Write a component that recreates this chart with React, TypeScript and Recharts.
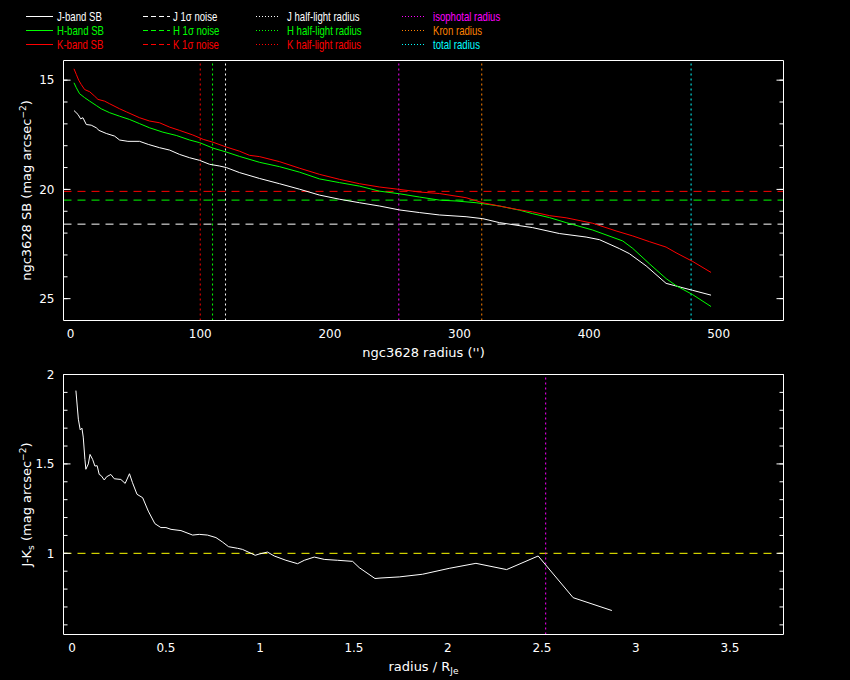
import React from "react";
import { LineChart, Line, XAxis, YAxis, ReferenceLine } from "recharts";

const FONT = "'DejaVu Sans', sans-serif";
const LEGEND_FONT = "'Liberation Sans', sans-serif";
const WHITE = "#ffffff";

// surface brightness profiles (radius in arcsec, mag arcsec^-2)
const jRadius = [2.6, 5.7, 7.7, 9.5, 12.1, 15.9, 19.8, 21.9, 27.5, 33.9, 37.8, 44.2, 53.2, 59.9, 68.6, 76.4, 84.1, 91.8, 99.5, 107.2, 114.9, 120.1, 130.3, 145.8, 161.2, 176.6, 192, 207.5, 222.9, 238.3, 253.7, 269.2, 284.6, 305.1, 318, 330.8, 356.5, 377.1, 397.7, 408, 423.4, 431.1, 444, 459.4, 467, 480, 494.1];
const jSB = [16.39, 16.57, 16.77, 16.72, 17.03, 17.06, 17.18, 17.3, 17.44, 17.56, 17.74, 17.8, 17.8, 17.94, 18.09, 18.2, 18.4, 18.55, 18.67, 18.85, 18.93, 19.0, 19.23, 19.5, 19.74, 19.99, 20.26, 20.45, 20.61, 20.76, 20.94, 21.06, 21.17, 21.25, 21.34, 21.52, 21.75, 22.02, 22.18, 22.3, 22.71, 22.94, 23.5, 24.3, 24.42, 24.62, 24.84];

const hRadius = [2.6, 4.4, 6.9, 10.8, 14.7, 19.8, 23.6, 30.1, 37.8, 45.5, 53.2, 60.9, 71.2, 81.5, 91.8, 99.5, 109.8, 120.1, 130.3, 145.8, 161.2, 176.6, 192, 207.5, 222.9, 238.3, 253.7, 269.2, 284.6, 297.4, 312.9, 330.8, 346.3, 356.5, 369.4, 382.3, 402.8, 426, 433.7, 446.5, 459.4, 467, 480, 494.1];
const hSB = [15.12, 15.35, 15.62, 15.8, 15.96, 16.16, 16.31, 16.49, 16.65, 16.8, 16.99, 17.18, 17.38, 17.53, 17.74, 17.86, 18.11, 18.29, 18.49, 18.76, 18.96, 19.21, 19.52, 19.69, 19.85, 20.08, 20.2, 20.35, 20.49, 20.53, 20.61, 20.76, 20.95, 21.11, 21.29, 21.52, 21.86, 22.36, 22.7, 23.4, 24.08, 24.4, 24.82, 25.36];

const kRadius = [2.6, 4.4, 6.2, 8.2, 10.8, 14.7, 18.5, 21.1, 26.2, 30.1, 37.8, 43, 53.2, 60.9, 68.6, 76.4, 84.1, 94.3, 102.3, 109.8, 120.1, 130.3, 138, 145.8, 161.2, 176.6, 192, 207.5, 222.9, 238.3, 253.7, 269.2, 284.6, 305.1, 318, 330.8, 343.7, 356.5, 369.4, 382.3, 402.8, 420.8, 433.7, 446.5, 459.4, 467.1, 480, 494.1];
const kSB = [14.48, 14.74, 15.0, 15.2, 15.43, 15.53, 15.73, 15.88, 15.96, 16.08, 16.31, 16.45, 16.72, 16.87, 16.95, 17.15, 17.3, 17.51, 17.71, 17.84, 18.06, 18.25, 18.44, 18.5, 18.73, 19.03, 19.31, 19.54, 19.74, 19.89, 20.0, 20.12, 20.19, 20.38, 20.61, 20.76, 20.91, 21.03, 21.2, 21.3, 21.55, 21.9, 22.13, 22.39, 22.64, 22.9, 23.3, 23.8];

// J-Ks colour profile (radius / R_Je)
const colourRadius = [0.021, 0.034, 0.044, 0.053, 0.06, 0.069, 0.074, 0.087, 0.096, 0.11, 0.122, 0.134, 0.145, 0.155, 0.172, 0.184, 0.207, 0.225, 0.26, 0.283, 0.306, 0.322, 0.346, 0.376, 0.406, 0.441, 0.473, 0.5, 0.527, 0.58, 0.642, 0.677, 0.721, 0.766, 0.801, 0.833, 0.881, 0.907, 0.975, 0.996, 1.04, 1.076, 1.138, 1.2, 1.236, 1.289, 1.342, 1.413, 1.493, 1.528, 1.612, 1.644, 1.741, 1.865, 2.007, 2.149, 2.312, 2.48, 2.666, 2.872];
const colourJK = [1.91, 1.75, 1.69, 1.7, 1.65, 1.525, 1.47, 1.5, 1.553, 1.525, 1.488, 1.49, 1.441, 1.435, 1.41, 1.428, 1.441, 1.417, 1.413, 1.391, 1.445, 1.395, 1.33, 1.311, 1.236, 1.166, 1.144, 1.144, 1.134, 1.127, 1.102, 1.106, 1.102, 1.088, 1.063, 1.037, 1.028, 1.022, 0.989, 0.996, 1.007, 0.985, 0.961, 0.942, 0.961, 0.979, 0.966, 0.961, 0.955, 0.92, 0.859, 0.862, 0.868, 0.883, 0.916, 0.944, 0.909, 0.985, 0.752, 0.68];

const bandNames = ["J", "H", "K"];
const bandColors = ["#ffffff", "#00ff00", "#ff0000"];
const noiseSB = [21.59, 20.49, 20.09];
const halfLightRadius = [119.5, 109.5, 100.0];
const apertureNames = ["isophotal radius", "Kron radius", "total radius"];
const apertureColors = ["#ff00ff", "#ff8000", "#00ffff"];
const apertureRadius = [253.2, 317.2, 478.7];
const colourMarkerRadius = 2.52;
const colourReference = 1;

const sbXDomain = [-5.5, 550];
const sbYDomain = [14.1, 26];
const sbMajorX = [0, 100, 200, 300, 400, 500];
const sbMinorX = [0, 20, 40, 60, 80, 100, 120, 140, 160, 180, 200, 220, 240, 260, 280, 300, 320, 340, 360, 380, 400, 420, 440, 460, 480, 500, 520, 540];
const sbMajorY = [15, 20, 25];
const sbMinorY = [15, 16, 17, 18, 19, 20, 21, 22, 23, 24, 25];

const jkXDomain = [-0.045, 3.785];
const jkYDomain = [0.546, 2.0];
const jkMajorX = [0, 0.5, 1, 1.5, 2, 2.5, 3, 3.5];
const jkMinorX = [0, 0.1, 0.2, 0.3, 0.4, 0.5, 0.6, 0.7, 0.8, 0.9, 1, 1.1, 1.2, 1.3, 1.4, 1.5, 1.6, 1.7, 1.8, 1.9, 2, 2.1, 2.2, 2.3, 2.4, 2.5, 2.6, 2.7, 2.8, 2.9, 3, 3.1, 3.2, 3.3, 3.4, 3.5, 3.6, 3.7];
const jkMajorY = [1, 1.5, 2];
const jkMinorY = [0.6, 0.7, 0.8, 0.9, 1, 1.1, 1.2, 1.3, 1.4, 1.5, 1.6, 1.7, 1.8, 1.9, 2];

const toRows = (xs: number[], ys: number[]) => xs.map((r, i) => ({ r, v: ys[i] }));
const sbData = [toRows(jRadius, jSB), toRows(hRadius, hSB), toRows(kRadius, kSB)];
const jkData = toRows(colourRadius, colourJK);

const tickStyle = { fill: WHITE, fontSize: 12, fontFamily: FONT };
const THIN = 0.01; // mirrored tick-only axes must have a non-zero size to render
const noLabel = () => <g />;

// inward ticks on all four sides, plus the box
function frameAxes(xDomain: number[], yDomain: number[], reversed: boolean, mx: number[], nx: number[], my: number[], ny: number[]) {
  const out: React.ReactNode[] = [];
  (["bottom", "top"] as const).forEach((o) => {
    out.push(
      <XAxis key={o + "maj"} xAxisId={o + "maj"} type="number" orientation={o} mirror height={THIN} domain={xDomain} ticks={mx}
        allowDataOverflow interval={0} tick={noLabel} tickSize={7} stroke={WHITE} axisLine={{ stroke: WHITE }} tickLine={{ stroke: WHITE }} />,
      <XAxis key={o + "min"} xAxisId={o + "min"} type="number" orientation={o} mirror height={THIN} domain={xDomain} ticks={nx}
        allowDataOverflow interval={0} tick={noLabel} tickSize={4} stroke={WHITE} axisLine={false} tickLine={{ stroke: WHITE }} />
    );
  });
  (["left", "right"] as const).forEach((o) => {
    out.push(
      <YAxis key={o + "maj"} yAxisId={o + "maj"} type="number" orientation={o} mirror width={THIN} domain={yDomain} reversed={reversed} ticks={my}
        allowDataOverflow interval={0} tick={noLabel} tickSize={7} stroke={WHITE} axisLine={{ stroke: WHITE }} tickLine={{ stroke: WHITE }} />,
      <YAxis key={o + "min"} yAxisId={o + "min"} type="number" orientation={o} mirror width={THIN} domain={yDomain} reversed={reversed} ticks={ny}
        allowDataOverflow interval={0} tick={noLabel} tickSize={4} stroke={WHITE} axisLine={false} tickLine={{ stroke: WHITE }} />
    );
  });
  return out;
}

const xTitle = (content: React.ReactNode) => (props: any) => {
  const vb = props.viewBox || {};
  return (
    <text x={vb.x + vb.width / 2} y={vb.y + 36} textAnchor="middle" fill={WHITE} fontSize={13} fontFamily={FONT}>
      {content}
    </text>
  );
};

const yTitle = (content: React.ReactNode) => (props: any) => {
  const vb = props.viewBox || {};
  const cy = vb.y + vb.height / 2;
  return (
    <text x={31} y={cy} transform={`rotate(-90, 31, ${cy})`} textAnchor="middle" fill={WHITE} fontSize={13} fontFamily={FONT}>
      {content}
    </text>
  );
};

function Legend() {
  const rowY = [16.5, 30.5, 44.5];
  const cols = [
    { x1: 26, x2: 53, tx: 57, dash: undefined, labels: bandNames.map((b) => `${b}-band SB`), colors: bandColors },
    { x1: 143, x2: 170, tx: 173, dash: "5 3", labels: bandNames.map((b) => `${b} 1σ noise`), colors: bandColors },
    { x1: 256, x2: 280, tx: 287, dash: "1 2", labels: bandNames.map((b) => `${b} half-light radius`), colors: bandColors },
    { x1: 402, x2: 426, tx: 433, dash: "1 2", labels: apertureNames, colors: apertureColors },
  ];
  return (
    <svg width={850} height={60} style={{ position: "absolute", left: 0, top: 0 }}>
      {cols.map((c, ci) =>
        c.labels.map((label, i) => (
          <g key={`${ci}-${i}`}>
            <line x1={c.x1} x2={c.x2} y1={rowY[i]} y2={rowY[i]} stroke={c.colors[i]} strokeDasharray={c.dash} />
            <text transform={`translate(${c.tx}, ${rowY[i] + 4.5}) scale(0.8, 1)`} fill={c.colors[i]} fontSize={12} fontFamily={LEGEND_FONT}>
              {label}
            </text>
          </g>
        ))
      )}
    </svg>
  );
}

export default function App() {
  return (
    <div style={{ position: "fixed", left: 0, top: 0, width: 850, height: 680, background: "#000", overflow: "hidden" }}>
      <Legend />
      <div style={{ position: "absolute", left: 0, top: 0 }}>
        <LineChart width={850} height={365} margin={{ top: 60.5, right: 66.5, bottom: 14.5, left: 0 }}>
          <XAxis xAxisId="x" type="number" dataKey="r" domain={sbXDomain} ticks={sbMajorX} allowDataOverflow interval={0}
            height={30} tickLine={false} axisLine={false} tickSize={0} tickMargin={9} tick={tickStyle}
            label={xTitle("ngc3628 radius ('')")} />
          <YAxis yAxisId="y" type="number" dataKey="v" domain={sbYDomain} reversed ticks={sbMajorY} allowDataOverflow interval={0}
            width={63.5} tickLine={false} axisLine={false} tickSize={0} tickMargin={9} tick={tickStyle}
            label={yTitle(<>ngc3628 SB (mag arcsec<tspan dy={-5} fontSize={9}>−2</tspan><tspan dy={5}>)</tspan></>)} />
          {frameAxes(sbXDomain, sbYDomain, true, sbMajorX, sbMinorX, sbMajorY, sbMinorY)}
          {noiseSB.map((v, i) => (
            <ReferenceLine key={"n" + i} xAxisId="x" yAxisId="y" y={v} stroke={bandColors[i]} strokeDasharray="8 6" />
          ))}
          {halfLightRadius.map((v, i) => (
            <ReferenceLine key={"hl" + i} xAxisId="x" yAxisId="y" x={v} stroke={bandColors[i]} strokeDasharray="2 3" />
          ))}
          {apertureRadius.map((v, i) => (
            <ReferenceLine key={"ap" + i} xAxisId="x" yAxisId="y" x={v} stroke={apertureColors[i]} strokeDasharray="2 3" />
          ))}
          {sbData.map((d, i) => (
            <Line key={bandNames[i]} xAxisId="x" yAxisId="y" data={d} dataKey="v" type="linear" stroke={bandColors[i]}
              strokeWidth={1} dot={false} activeDot={false} isAnimationActive={false} />
          ))}
        </LineChart>
      </div>
      <div style={{ position: "absolute", left: 0, top: 355 }}>
        <LineChart width={850} height={325} margin={{ top: 19.5, right: 66.5, bottom: 15.5, left: 0 }}>
          <XAxis xAxisId="x" type="number" dataKey="r" domain={jkXDomain} ticks={jkMajorX} allowDataOverflow interval={0}
            height={30} tickLine={false} axisLine={false} tickSize={0} tickMargin={9} tick={tickStyle}
            label={xTitle(<>radius / R<tspan dy={3} fontSize={9}>Je</tspan></>)} />
          <YAxis yAxisId="y" type="number" dataKey="v" domain={jkYDomain} ticks={jkMajorY} allowDataOverflow interval={0}
            width={63.5} tickLine={false} axisLine={false} tickSize={0} tickMargin={9} tick={tickStyle}
            label={yTitle(<>J-K<tspan dy={3} fontSize={9}>s</tspan><tspan dy={-3}> (mag arcsec</tspan><tspan dy={-5} fontSize={9}>−2</tspan><tspan dy={5}>)</tspan></>)} />
          {frameAxes(jkXDomain, jkYDomain, false, jkMajorX, jkMinorX, jkMajorY, jkMinorY)}
          <ReferenceLine xAxisId="x" yAxisId="y" y={colourReference} stroke="#ffff00" strokeDasharray="8 6" />
          <ReferenceLine xAxisId="x" yAxisId="y" x={colourMarkerRadius} stroke={apertureColors[0]} strokeDasharray="2 3" />
          <Line xAxisId="x" yAxisId="y" data={jkData} dataKey="v" type="linear" stroke={WHITE} strokeWidth={1}
            dot={false} activeDot={false} isAnimationActive={false} />
        </LineChart>
      </div>
    </div>
  );
}
